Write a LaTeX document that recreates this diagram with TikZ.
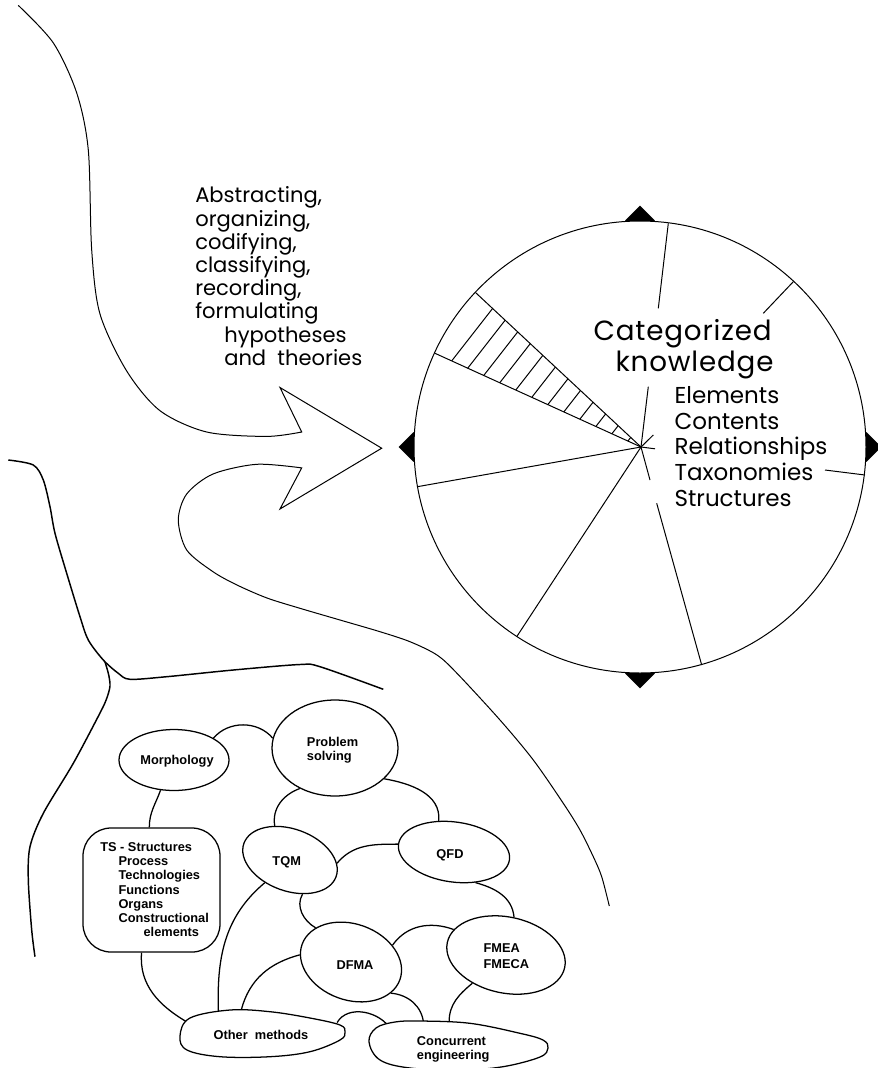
\documentclass[tikz,border=0pt]{standalone}
\usepackage{fontspec}
\setmainfont{Poppins}
\newfontfamily\spacedfont[LetterSpace=3]{Poppins}
\newfontfamily\blobfont{Liberation Sans}
\usetikzlibrary{shapes.geometric,backgrounds}
\begin{document}
\begin{tikzpicture}[x=0.75pt,y=-0.75pt,
  fine/.style={line width=0.75pt},
  heavy/.style={line width=1.1pt},
  link/.style={line width=0.95pt},
  blob/.style={draw,fill=white,line width=0.95pt,inner sep=0pt},
  eblob/.style={blob,ellipse},
  ghost/.style={ellipse,inner sep=0pt},
  corner/.style={diamond,fill=black,minimum width=22.5pt,minimum height=22.5pt,inner sep=0pt},
  lbl/.style={font=\blobfont\bfseries\fontsize{9.6}{10.6}\selectfont,inner sep=0pt},
  toptext/.style={inner sep=0pt,anchor=base west}]
\useasboundingbox (0,0) rectangle (878,1068);

% ---------- big curved arrow ----------
\draw[fine] plot[smooth] coordinates {(18.3,5.4) (53.3,42.9) (76.7,92.9) (88.3,150) (91.7,250) (100,314) (126.7,371) (160,410.7) (206.7,432) (266.7,436.4) (301.7,432)}
  -- (280,387.5) -- (381.7,448.2) -- (280,509) -- (301.7,467.9)
  -- plot[smooth] coordinates {(301.7,467.9) (256.7,464.3) (213,474) (186.7,494) (178.3,520) (186.7,550) (213,571.7) (237,585) (267,598) (300,608.3) (340,620) (380,631.7) (410,641.7) (437,655) (457,673.3) (500,720) (533.3,760) (563.3,803.3) (580,830) (593.3,856.7) (601.7,876.7) (609.3,906)};

% ---------- left boundary curves ----------
\draw[heavy] plot[smooth] coordinates {(8.3,460) (33.3,465) (43.3,480) (50,506.7) (55,533.3) (66.7,573.3) (80,616.7) (88.3,640) (103.3,660) (118.3,673.3) (130,679.3) (166.7,676.7) (233.3,670) (300,664.5) (320,666.7) (383.3,689.3)};
\draw[heavy] plot[smooth] coordinates {(105,662) (108.5,674) (110,686) (106.5,699) (100,713) (73.3,763.3) (43.3,813.3) (30,846.7) (28.3,880) (31.7,930) (35,956.7)};

% ---------- text beside arrow ----------
\node[toptext,font=\fontsize{15.8}{17.4}\selectfont] (proc) at (195,202.9)
  {\begin{tabular}[t]{@{}l@{}}Abstracting,\\organizing,\\codifying,\\classifying,\\recording,\\formulating\\
   \hspace*{21.75pt}hypotheses\\\hspace*{21.75pt}and\ \ theories\end{tabular}};

% ---------- categorized knowledge circle ----------
\node[circle,draw,fine,fill=white,minimum size=339pt,inner sep=0pt] (pie) at (640,447) {};
\begin{pgfonlayer}{background}
  \node[corner] (dn) at (pie.north) {};
  \node[corner] (dw) at (pie.west) {};
  \node[corner] (de) at (pie.east) {};
  \node[corner] (ds) at (pie.south) {};
\end{pgfonlayer}
\coordinate (ctr) at (641,447);
\begin{scope}
  \clip (ctr) -- (435,353.3) -- (475.7,292.7) -- cycle;
  \foreach \k in {0,...,11}
    \draw[fine] ({733.2+21.7*\k-195},250) -- ({733.2+21.7*\k-390},500);
\end{scope}
\draw[fine] (ctr) -- (648.3,386.7) (658.3,308.3) -- (668.3,223.3);
\draw[fine] (ctr) -- (653.3,435) (763.3,313.3) -- (793.3,281.7);
\draw[fine] (ctr) -- (655,448.8) (825,470) -- (865,475);
\draw[fine] (ctr) -- (650,480) (656.7,503.3) -- (701.7,665);
\draw[fine] (ctr) -- (516.7,636.7);
\draw[fine] (ctr) -- (417.3,486.7);
\draw[fine] (ctr) -- (435,353.3);
\draw[fine] (ctr) -- (475.7,292.7);

\node[toptext,font=\spacedfont\fontsize{20.8}{23.8}\selectfont] (catk) at (593.3,340)
  {\begin{tabular}[t]{@{}l@{}}Categorized\\\hspace*{16.5pt}knowledge\end{tabular}};
\node[toptext,font=\fontsize{17.25}{19.3}\selectfont] (cont) at (674.3,403.3)
  {\begin{tabular}[t]{@{}l@{}}Elements\\Contents\\Relationships\\Taxonomies\\Structures\end{tabular}};

% ---------- method blobs ----------
\node[eblob,minimum width=82.5pt,minimum height=45.75pt] (morph) at (174,760) {};
\node[eblob,minimum width=94.5pt,minimum height=72pt] (prob) at (335,748) {};
\node[blob,rectangle,rounded corners=21pt,minimum width=102.75pt,minimum height=93pt] (ts) at (151.5,890) {};
\node[eblob,rotate=-20,minimum width=73.5pt,minimum height=46.5pt] (tqm) at (290,860) {};
\node[eblob,rotate=-8,minimum width=84pt,minimum height=45pt] (qfd) at (454,852) {};
\node[eblob,rotate=-20,minimum width=78pt,minimum height=57pt] (dfma) at (351,962) {};
\node[eblob,rotate=-12,minimum width=90pt,minimum height=57pt] (fmea) at (506,955) {};
\node[ghost,minimum width=123.75pt,minimum height=36pt] (other) at (262.5,1033) {};
\node[ghost,minimum width=135pt,minimum height=34.5pt] (conc) at (458,1045) {};
\draw[link,fill=white] plot[smooth cycle,tension=0.6] coordinates {(180,1036) (190,1018) (230,1010) (270,1011.7) (310,1018) (340,1025) (345,1032) (340,1040) (310,1051.7) (270,1056.7) (220,1056.7) (187,1050)};
\draw[link,fill=white] plot[smooth cycle,tension=0.6] coordinates {(369,1042) (376,1028) (395,1022) (420,1021) (470,1023.3) (520,1033.3) (543,1040) (548,1048) (540,1057) (503,1066.7) (460,1070) (410,1068) (380,1060)};

\begin{pgfonlayer}{background}
  \draw[link] (morph.29) to[out=50,in=130] (prob.171);
  \draw[link] (morph.246) to[out=250,in=90] (ts.92);
  \draw[link] (prob.229) to[out=200,in=100] (tqm.134);
  \draw[link] (prob.-32) to[out=-10,in=85] (qfd.124);
  \draw[link] (tqm.16) to[out=50,in=180] (qfd.180);
  \draw[link] (tqm.-50) to[out=240,in=150] (dfma.156);
  \draw[link] (qfd.-47) to[out=-15,in=95] (fmea.90);
  \draw[link] (dfma.42) to[out=55,in=160] (fmea.166);
  \draw[link] (dfma.-18) to[out=-5,in=95] (conc.148);
  \draw[link] (fmea.232) to[out=220,in=90] (conc.111);
  \draw[link] (other.8) to[out=60,in=120] (conc.167);
  \draw[link] (ts.261) to[out=265,in=150] (other.172);
  \draw[link] (tqm.242) to[out=220,in=92] (other.155);
  \draw[link] (dfma.192) to[out=195,in=75] (other.132);
\end{pgfonlayer}

% ---------- blob labels ----------
\node[lbl] (morphl) at (177,761) {Morphology};
\node[lbl,anchor=base west] (probl) at (306.7,746.7) {\begin{tabular}[t]{@{}l@{}}Problem\\solving\end{tabular}};
\node[lbl,anchor=base west] (tsl) at (100,851.7) {\begin{tabular}[t]{@{}l@{}}TS - Structures\\
  \hspace*{13.7pt}Process\\\hspace*{13.7pt}Technologies\\\hspace*{13.7pt}Functions\\\hspace*{13.7pt}Organs\\
  \hspace*{13.7pt}Constructional\\\hspace*{32.5pt}elements\end{tabular}};
\node[lbl,anchor=base] (tqml) at (286.7,865.3) {TQM};
\node[lbl,anchor=base] (qfdl) at (450,858.3) {QFD};
\node[lbl,anchor=base] (dfmal) at (355,969.3) {DFMA};
\node[lbl,anchor=base west] (fmeal) at (483.3,952.3) {\begin{tabular}[t]{@{}l@{}}FMEA\\[1.4pt]FMECA\end{tabular}};
\node[lbl,anchor=base] (otherl) at (261,1039) {Other\ \ methods};
\node[lbl,anchor=base west] (concl) at (416.7,1045) {\begin{tabular}[t]{@{}l@{}}Concurrent\\engineering\end{tabular}};
\end{tikzpicture}
\end{document}
